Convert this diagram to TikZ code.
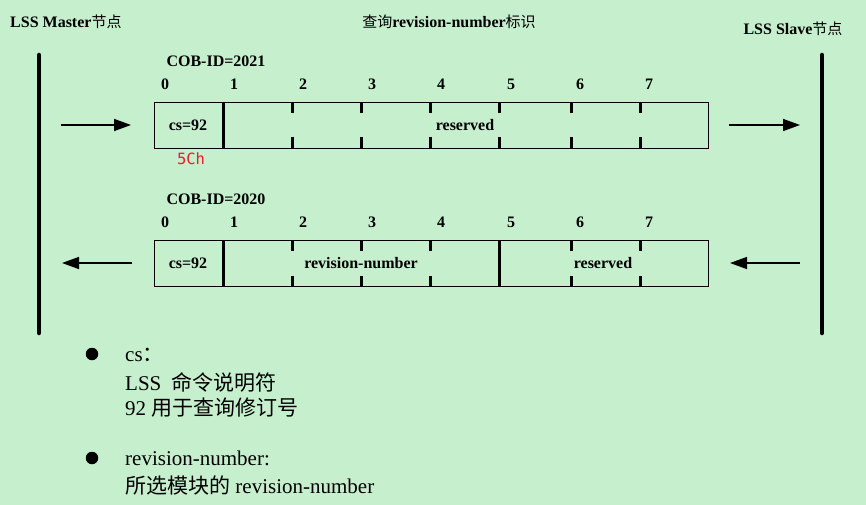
\documentclass[tikz,border=0pt]{standalone}
\usepackage{fontspec}
\setmainfont{Liberation Serif}
\newfontfamily\cjk{Noto Sans CJK SC}
\newfontfamily\monof{DejaVu Sans Mono}
\usetikzlibrary{arrows.meta}
\definecolor{bg}{RGB}{198,239,206}
\definecolor{redt}{RGB}{235,30,35}
\begin{document}
\begin{tikzpicture}[x=1pt,y=-1pt,
  lbl/.style={font=\fontsize{16}{19}\selectfont\bfseries, inner sep=0pt},
  txt/.style={font=\fontsize{21}{24}\selectfont, inner sep=0pt, anchor=west},
  frame/.style={draw=black, line width=1.2pt, minimum width=554pt, minimum height=46pt, anchor=north west, inner sep=0pt},
  bar/.style={line width=4.5pt, line cap=round},
  divider/.style={line width=3pt},
  tick/.style={line width=3pt},
  arr/.style={line width=1.5pt, -{Triangle[length=17pt,width=12pt]}},
  dot/.style={circle, fill=black, minimum size=12.5pt, inner sep=0pt}]
\fill[bg] (0,0) rectangle (866,505);
\useasboundingbox (0,0) rectangle (866,505);

% titles
\node[lbl, anchor=west] (tmaster) at (10,22) {LSS Master{\cjk\mdseries\fontsize{15}{18}\selectfont 节点}};
\node[lbl] (ttitle) at (449,22) {{\cjk\mdseries\fontsize{15}{18}\selectfont 查询}revision-number{\cjk\mdseries\fontsize{15}{18}\selectfont 标识}};
\node[lbl] (tslave) at (793,29) {LSS Slave{\cjk\mdseries\fontsize{15}{18}\selectfont 节点}};

% vertical bars
\coordinate (mtop) at (39,55); \coordinate (mbot) at (39,333);
\coordinate (stop) at (822,55); \coordinate (sbot) at (822,333);
\draw[bar] (mtop) -- (mbot);
\draw[bar] (stop) -- (sbot);

% ---------- frame 1 ----------
\node[lbl] (cob1) at (216,61) {COB-ID=2021};
\foreach \i/\x in {0/165,1/234,2/303,3/372,4/441,5/511,6/580,7/649}
  \node[lbl] (b1n\i) at (\x,84) {\i};
\node[frame] (f1) at (154,102) {};
\draw[divider] (223,102) -- (223,148);
\foreach \x in {292,361,430,499,571,640}
  {\draw[tick] (\x,102) -- (\x,113); \draw[tick] (\x,137) -- (\x,148);}
\node[lbl] (cs1) at (188,125) {cs=92};
\node[lbl] (res1) at (465,125) {reserved};
\node[inner sep=0pt, text=redt, font=\monof\fontsize{15.5}{18}\selectfont] (hex1) at (191,159) {5Ch};
\coordinate (a1s) at (61,125); \coordinate (a1e) at (131,125);
\draw[arr] (a1s) -- (a1e);
\coordinate (a2s) at (729,125); \coordinate (a2e) at (800,125);
\draw[arr] (a2s) -- (a2e);

% ---------- frame 2 ----------
\node[lbl] (cob2) at (216,199) {COB-ID=2020};
\foreach \i/\x in {0/165,1/234,2/303,3/372,4/441,5/511,6/580,7/649}
  \node[lbl] (b2n\i) at (\x,222) {\i};
\node[frame] (f2) at (154,240) {};
\draw[divider] (223,240) -- (223,287);
\draw[divider] (499,240) -- (499,287);
\foreach \x in {292,361,430,571,640}
  {\draw[tick] (\x,240) -- (\x,251); \draw[tick] (\x,276) -- (\x,287);}
\node[lbl] (cs2) at (188,263) {cs=92};
\node[lbl] (rev2) at (361,263) {revision-number};
\node[lbl] (res2) at (603,263) {reserved};
\coordinate (a3s) at (132,263); \coordinate (a3e) at (62,263);
\draw[arr] (a3s) -- (a3e);
\coordinate (a4s) at (800,263); \coordinate (a4e) at (730,263);
\draw[arr] (a4s) -- (a4e);

% ---------- notes ----------
\node[dot] (d1) at (92,354) {};
\node[dot] (d2) at (92,458) {};
\node[txt] (l1) at (125,355) {cs{\cjk ：}};
\node[txt] (l2) at (125,382) {LSS\ \ {\cjk 命令说明符}};
\node[txt] (l3) at (125,408) {92 {\cjk 用于查询修订号}};
\node[txt] (l4) at (125,458) {revision-number:};
\node[txt] (l5) at (125,485) {{\cjk 所选模块的} revision-number};
\end{tikzpicture}
\end{document}
